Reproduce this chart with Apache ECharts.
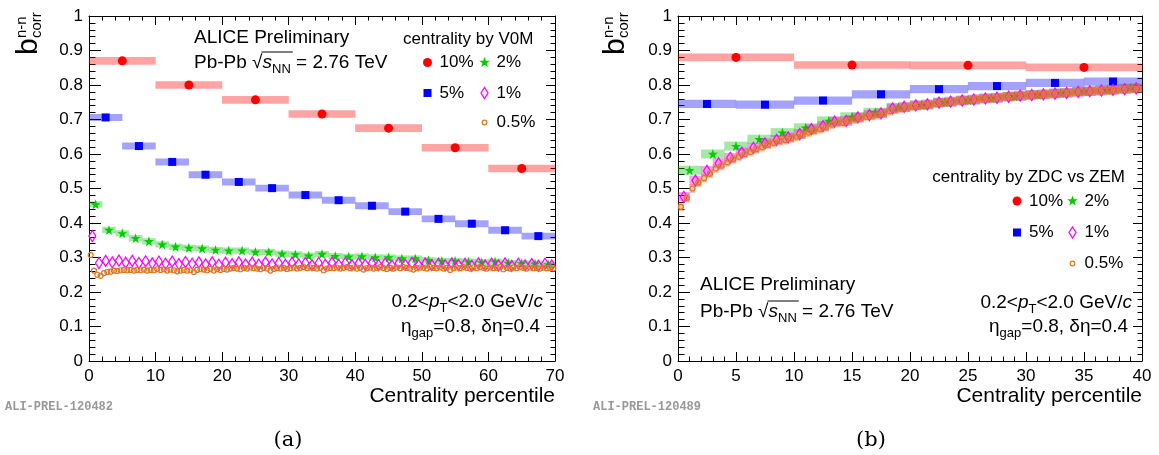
<!DOCTYPE html>
<html><head><meta charset="utf-8">
<script src="https://cdn.jsdelivr.net/npm/echarts@6/dist/echarts.min.js"></script>
<style>html,body{margin:0;padding:0;background:#fff}#c{width:1159px;height:455px}</style>
</head><body><div id="c"></div>
<script>
// ---------- DATA ----------
// bin widths (centrality %) for the 10%, 5%, 2%, 1%, 0.5% classes
const binWidths = [10, 5, 2, 1, 0.5];
const seriesNames = ['10%', '5%', '2%', '1%', '0.5%'];

// (a) centrality by V0M, x range 0-70
const v0m10 = [0.870, 0.800, 0.757, 0.716, 0.675, 0.618, 0.558];
const v0m5 = [0.706, 0.623, 0.577, 0.540, 0.519, 0.501, 0.481, 0.466, 0.450, 0.433, 0.412, 0.398, 0.379, 0.362];
const v0m2 = [0.454, 0.380, 0.370, 0.356, 0.347, 0.338, 0.331, 0.328, 0.326, 0.322,
              0.320, 0.320, 0.316, 0.316, 0.311, 0.309, 0.305, 0.310, 0.304, 0.302,
              0.303, 0.300, 0.300, 0.297, 0.297, 0.292, 0.290, 0.290, 0.288, 0.286,
              0.288, 0.284, 0.283, 0.282, 0.280];
const v0m1 = [0.362, 0.284, 0.290, 0.286, 0.291, 0.285, 0.290, 0.284, 0.289, 0.283,
              0.288, 0.282, 0.288, 0.281, 0.287, 0.282, 0.286, 0.280, 0.286, 0.279,
              0.285, 0.281, 0.286, 0.280, 0.285, 0.279, 0.286, 0.280, 0.284, 0.279,
              0.285, 0.280, 0.284, 0.278, 0.284, 0.279, 0.285, 0.279, 0.284, 0.278,
              0.283, 0.279, 0.284, 0.278, 0.283, 0.277, 0.283, 0.279, 0.284, 0.278,
              0.283, 0.278, 0.282, 0.277, 0.283, 0.278, 0.282, 0.276, 0.283, 0.277,
              0.282, 0.277, 0.283, 0.276, 0.282, 0.277, 0.281, 0.276, 0.282, 0.277];
const v0m05 = [0.307, 0.262, 0.250, 0.247, 0.255, 0.258, 0.259, 0.262, 0.261, 0.263,
               0.264, 0.263, 0.264, 0.262, 0.264, 0.263, 0.265, 0.262, 0.264, 0.263,
               0.266, 0.264, 0.266, 0.262, 0.265, 0.263, 0.260, 0.262, 0.264, 0.262,
               0.263, 0.258, 0.264, 0.266, 0.265, 0.263, 0.267, 0.262, 0.266, 0.264,
               0.267, 0.265, 0.268, 0.270, 0.268, 0.266, 0.270, 0.268, 0.271, 0.269,
               0.268, 0.266, 0.270, 0.268, 0.262, 0.267, 0.269, 0.268, 0.270, 0.267,
               0.269, 0.271, 0.268, 0.270, 0.272, 0.269, 0.271, 0.270, 0.268, 0.270,
               0.263, 0.268, 0.270, 0.269, 0.271, 0.268, 0.270, 0.272, 0.269, 0.271,
               0.268, 0.270, 0.265, 0.269, 0.271, 0.268, 0.270, 0.272, 0.269, 0.267,
               0.270, 0.268, 0.271, 0.269, 0.272, 0.270, 0.268, 0.265, 0.269, 0.271,
               0.270, 0.268, 0.272, 0.270, 0.269, 0.271, 0.268, 0.270, 0.264, 0.269,
               0.271, 0.269, 0.272, 0.270, 0.268, 0.271, 0.269, 0.272, 0.270, 0.268,
               0.271, 0.269, 0.270, 0.272, 0.266, 0.270, 0.268, 0.271, 0.269, 0.272,
               0.270, 0.268, 0.271, 0.269, 0.270, 0.268, 0.271, 0.269, 0.270, 0.268];
// systematic half-heights (a)
const v0mSyst = [0.011, 0.010, 0.009, 0, 0];

// (b) centrality by ZDC vs ZEM, x range 0-40
const zdc10 = [0.880, 0.858, 0.857, 0.851];
const zdc5 = [0.745, 0.743, 0.755, 0.773, 0.788, 0.797, 0.806, 0.810];
const zdc2 = [0.553, 0.600, 0.623, 0.643, 0.662, 0.676, 0.696, 0.708, 0.721, 0.735,
              0.742, 0.750, 0.756, 0.762, 0.767, 0.772, 0.777, 0.782, 0.786, 0.791];
const zdc1 = [0.476, 0.523, 0.551, 0.573, 0.589, 0.604, 0.618, 0.631, 0.641, 0.648,
              0.658, 0.672, 0.681, 0.694, 0.696, 0.706, 0.713, 0.718, 0.732, 0.737,
              0.741, 0.744, 0.749, 0.752, 0.755, 0.758, 0.761, 0.763, 0.766, 0.769,
              0.771, 0.773, 0.775, 0.777, 0.780, 0.782, 0.784, 0.786, 0.788, 0.790];
const zdc05 = [0.447, 0.473, 0.500, 0.517, 0.530, 0.543, 0.558, 0.566, 0.576, 0.585,
               0.592, 0.600, 0.606, 0.614, 0.620, 0.627, 0.632, 0.638, 0.640, 0.646,
               0.650, 0.656, 0.662, 0.668, 0.672, 0.678, 0.685, 0.690, 0.690, 0.696,
               0.700, 0.704, 0.708, 0.711, 0.713, 0.718, 0.724, 0.729, 0.732, 0.735,
               0.737, 0.740, 0.741, 0.744, 0.746, 0.749, 0.750, 0.753, 0.754, 0.756,
               0.757, 0.760, 0.760, 0.762, 0.762, 0.765, 0.766, 0.768, 0.769, 0.771,
               0.770, 0.772, 0.772, 0.774, 0.774, 0.776, 0.777, 0.779, 0.779, 0.781,
               0.781, 0.783, 0.782, 0.785, 0.785, 0.786, 0.787, 0.788, 0.789, 0.790];
// systematic half-heights (b)
const zdcSyst = [0.011, 0.012, 0.013, 0.014, 0.013];

// ---------- STYLE / LAYOUT ----------
const FONT = '"Liberation Sans", Arial, Helvetica, sans-serif';
const STAR = 'path://M50,0L61.2,34.5L97.6,34.5L68.2,55.9L79.4,90.5L50,69.1L20.6,90.5L31.8,55.9L2.4,34.5L38.8,34.5Z';
const styles = [
  {color:'#ff0000', box:'rgba(255,0,0,0.36)',    symbol:'circle',  size:9,      fill:'#ff0000', bw:0},
  {color:'#0000ff', box:'rgba(0,0,255,0.36)',    symbol:'rect',    size:8,      fill:'#0000ff', bw:0},
  {color:'#00cc00', box:'rgba(0,190,0,0.36)',    symbol:STAR,      size:10,     fill:'#00cc00', bw:0},
  {color:'#ff00ff', box:'rgba(240,0,200,0.36)',  symbol:'diamond', size:[7,11], fill:'rgba(0,0,0,0)', bw:1.3},
  {color:'#dd7722', box:'rgba(225,110,40,0.40)', symbol:'circle',  size:5,      fill:'rgba(0,0,0,0)', bw:1.2}
];
const grids = [{left:89, top:16, width:466, height:345}, {left:678, top:16, width:464, height:345}];
const xMax = [70, 40];

function pts(vals, w){ return vals.map((v,i)=>[(i+0.5)*w, v]); }

// systematic boxes: rect symbols centred on each bin, sized from the axis scale (px per unit)
function panelSeries(p, sets, syst){
  const out = [];
  const xi = p*2, yi = p*2;
  const pxX = grids[p].width / xMax[p], pxY = grids[p].height / 1;
  sets.forEach((vals,k)=>{
    const st = styles[k], w = binWidths[k];
    if (syst[k] > 0) out.push({
      type:'scatter', id:'p'+p+'-box-'+k, name:'p'+p+' '+seriesNames[k]+' syst', xAxisIndex:xi, yAxisIndex:yi,
      silent:true, clip:false, data: pts(vals, w), symbol:'rect',
      symbolSize:[w*pxX + 0.3, 2*syst[k]*pxY],
      itemStyle:{color:st.box, opacity:1}
    });
    out.push({type:'scatter', id:'p'+p+'-pts-'+k, name:'p'+p+' '+seriesNames[k], xAxisIndex:xi, yAxisIndex:yi, silent:true,
      data: pts(vals, w), symbol:st.symbol, symbolSize:st.size,
      itemStyle:{color:st.fill, borderColor:st.color, borderWidth:st.bw, opacity:1}});
  });
  return out;
}

function xAx(grid, max, interval, pos){
  return {gridIndex:grid, type:'value', min:0, max:max, interval:interval, position:pos,
    axisLine:{show:true, onZero:false, lineStyle:{color:'#000', width:1}},
    axisTick:{show:true, inside:true, length:9, lineStyle:{color:'#000'}},
    minorTick:{show:true, splitNumber:5, length:4.5, lineStyle:{color:'#000'}},
    splitLine:{show:false},
    axisLabel:{show: pos==='bottom', color:'#000', fontSize:17, fontFamily:FONT, margin:7}};
}
function yAx(grid, pos){
  return {gridIndex:grid, type:'value', min:0, max:1, interval:0.1, position:pos,
    axisLine:{show:true, onZero:false, lineStyle:{color:'#000', width:1}},
    axisTick:{show:true, inside:true, length: pos==='left'?12:9, lineStyle:{color:'#000'}},
    minorTick:{show:true, splitNumber:5, length: pos==='left'?6.5:4.5, lineStyle:{color:'#000'}},
    splitLine:{show:false},
    axisLabel:{show: pos==='left', color:'#000', fontSize:17, fontFamily:FONT, margin:6,
      formatter:v=>{const r=Math.round(v*10)/10; return (r===0||r===1)?String(r):r.toFixed(1);}}};
}

// ---------- TEXT HELPERS ----------
const mctx = document.createElement('canvas').getContext('2d');
function tw(str, font){ mctx.font = font; return mctx.measureText(str).width; }

function txt(x, y, text, size, align){
  return {type:'text', x:x, y:y, silent:true,
    style:{text:text, fill:'#000', font: size+'px '+FONT, fontSize:size, fontFamily:FONT,
      textAlign:align||'left', textVerticalAlign:'middle', align:align||'left', verticalAlign:'middle'}};
}
function richTxt(x, y, text, size, align, rich, lh){
  return {type:'text', x:x, y:y, silent:true,
    style:{text:text, fill:'#000', fontSize:size, fontFamily:FONT, lineHeight:lh,
      textAlign:align, textVerticalAlign:'middle', align:align, verticalAlign:'middle', rich:rich}};
}
const subRich = (fs, lh) => ({
  i:{fontStyle:'italic', fontSize:19, fontFamily:FONT, lineHeight:26, verticalAlign:'middle'},
  s:{fontSize:fs, fontFamily:FONT, lineHeight:lh, verticalAlign:'bottom'}
});

function pbpb(x, y){
  const els = [richTxt(x, y, 'Pb-Pb \u221A{i|s}{s|NN} = 2.76 TeV', 19, 'left', subRich(13, 14), 26)];
  const f = '19px '+FONT;
  const x0 = x + tw('Pb-Pb \u221A', f) - 1;
  const x1 = x0 + tw('s', 'italic 19px '+FONT) + tw('NN', '13px '+FONT) + 3;
  els.push({type:'line', silent:true, shape:{x1:x0, y1:y-11, x2:x1, y2:y-11}, style:{stroke:'#000', lineWidth:1}});
  return els;
}
function ptText(xr, y){
  return richTxt(xr, y, '0.2<{i|p}{s|T}<2.0 GeV/{i|c}', 19, 'right', subRich(13, 14), 26);
}
function etaText(xr, y){
  return richTxt(xr, y, '\u03B7{s|gap}=0.8, \u03B4\u03B7=0.4', 19, 'right', subRich(13, 9), 26);
}
function yTitle(x0, y0){
  return {type:'group', x:x0, y:y0, rotation:Math.PI/2, silent:true, children:[
    {type:'text', x:0, y:0, style:{text:'b', fill:'#000', font:'30px '+FONT, textAlign:'left', textVerticalAlign:'middle', align:'left', verticalAlign:'middle'}},
    {type:'text', x:17, y:-7, style:{text:'n-n', fill:'#000', font:'15px '+FONT, textAlign:'left', textVerticalAlign:'middle', align:'left', verticalAlign:'middle'}},
    {type:'text', x:17, y:8, style:{text:'corr', fill:'#000', font:'15px '+FONT, textAlign:'left', textVerticalAlign:'middle', align:'left', verticalAlign:'middle'}}
  ]};
}
function starPts(cx, cy, r){
  const p = [];
  for (let i=0;i<10;i++){ const a = -Math.PI/2 + i*Math.PI/5; const rr = i%2===0 ? r : r*0.4; p.push([cx+rr*Math.cos(a), cy+rr*Math.sin(a)]); }
  return p;
}
function legend(xa, xb, y1, y2, y3){
  return [
    {type:'circle', silent:true, shape:{cx:xa, cy:y1, r:4.5}, style:{fill:styles[0].color}},
    txt(xa+12, y1, '10%', 17),
    {type:'polygon', silent:true, shape:{points:starPts(xb, y1, 5.5)}, style:{fill:styles[2].color}},
    txt(xb+12, y1, '2%', 17),
    {type:'rect', silent:true, shape:{x:xa-4, y:y2-4, width:8, height:8}, style:{fill:styles[1].color}},
    txt(xa+12, y2, '5%', 17),
    {type:'polygon', silent:true, shape:{points:[[xb, y2-5.5],[xb+3.5, y2],[xb, y2+5.5],[xb-3.5, y2]]}, style:{fill:'none', stroke:styles[3].color, lineWidth:1.3}},
    txt(xb+12, y2, '1%', 17),
    {type:'circle', silent:true, shape:{cx:xb, cy:y3, r:2.3}, style:{fill:'none', stroke:styles[4].color, lineWidth:1.2}},
    txt(xb+12, y3, '0.5%', 17)
  ];
}
function monoText(x, y, t){
  return {type:'text', x:x, y:y, silent:true, style:{text:t, fill:'#999', font:'bold 12px "Liberation Mono", "DejaVu Sans Mono", monospace', textVerticalAlign:'middle', verticalAlign:'middle'}};
}
function capText(x, y, t){
  return {type:'text', x:x, y:y, silent:true, style:{text:t, fill:'#000', font:'21px "DejaVu Serif", "Liberation Serif", serif', textAlign:'center', textVerticalAlign:'middle', align:'center', verticalAlign:'middle'}};
}

const graphics = [].concat(
  // panel (a)
  [yTitle(29, 55)],
  [txt(194, 38, 'ALICE Preliminary', 19)],
  pbpb(194, 63),
  [txt(403, 39, 'centrality by V0M', 17)],
  legend(427.5, 484.5, 62.5, 93, 122.5),
  [ptText(543, 302), etaText(540, 327)],
  [txt(555, 396, 'Centrality percentile', 21, 'right')],
  [monoText(5, 407, 'ALI-PREL-120482'), capText(288, 441, '(a)')],
  // panel (b)
  [yTitle(616, 55)],
  [txt(1125, 177, 'centrality by ZDC vs ZEM', 17, 'right')],
  legend(1017, 1072.5, 201, 232.5, 263.5),
  [txt(700, 285, 'ALICE Preliminary', 19)],
  pbpb(700, 312),
  [ptText(1132, 303), etaText(1128, 327)],
  [txt(1142, 396, 'Centrality percentile', 21, 'right')],
  [monoText(593, 407, 'ALI-PREL-120489'), capText(871, 441, '(b)')]
);

const option = {
  animation:false,
  backgroundColor:'#fff',
  textStyle:{fontFamily:FONT},
  grid: grids,
  xAxis:[xAx(0,70,10,'bottom'), xAx(0,70,10,'top'), xAx(1,40,5,'bottom'), xAx(1,40,5,'top')],
  yAxis:[yAx(0,'left'), yAx(0,'right'), yAx(1,'left'), yAx(1,'right')],
  series:[].concat(
    panelSeries(0, [v0m10, v0m5, v0m2, v0m1, v0m05], v0mSyst),
    panelSeries(1, [zdc10, zdc5, zdc2, zdc1, zdc05], zdcSyst)
  ),
  graphic: graphics
};
const chart = echarts.init(document.getElementById('c'));
chart.setOption(option);
</script></body></html>
